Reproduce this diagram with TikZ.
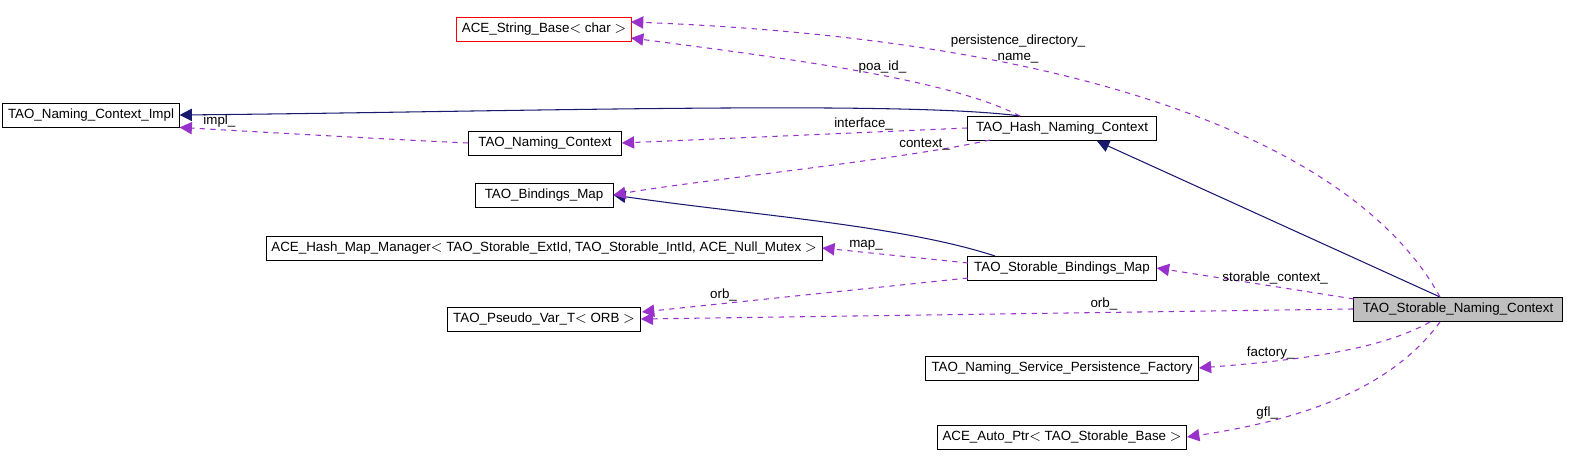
\documentclass[tikz,border=0pt]{standalone}
\usepackage{fontspec}
\setmainfont{Liberation Sans}
\tikzset{
  cls/.style={draw=black, fill=white, font=\fontsize{7.6}{9}\selectfont, minimum height=0.48cm, inner xsep=3pt},
  base/.style={draw=navy, -{Triangle[open, fill=navy, length=7pt, width=7pt]}, semithick},
  use/.style={draw=usecol, dashed, -{Triangle[fill=usecol, length=7pt, width=7pt]}, semithick},
  lbl/.style={font=\fontsize{7.6}{9}\selectfont, inner sep=1pt}
}
\usetikzlibrary{arrows.meta}
\definecolor{navy}{RGB}{25,25,112}
\definecolor{usecol}{RGB}{153,50,204}
\begin{document}
\begin{tikzpicture}[x=0.02cm, y=-0.02cm]
  \useasboundingbox (0,0) rectangle (1595,475);
  % classes
  \node[cls, draw=red, minimum width=3.44cm] (strbase) at (544,29) {ACE\_String\_Base$<$ char $>$};
  \node[cls, minimum width=3.44cm] (impl) at (91,115) {TAO\_Naming\_Context\_Impl};
  \node[cls, minimum width=3.06cm] (nctx) at (545,143) {TAO\_Naming\_Context};
  \node[cls, minimum width=3.78cm] (hash) at (1062,128) {TAO\_Hash\_Naming\_Context};
  \node[cls, minimum width=2.76cm] (bmap) at (544,195) {TAO\_Bindings\_Map};
  \node[cls, minimum width=10.84cm] (hmm) at (544,248) {ACE\_Hash\_Map\_Manager$<$ TAO\_Storable\_ExtId, TAO\_Storable\_IntId, ACE\_Null\_Mutex $>$};
  \node[cls, minimum width=3.78cm] (sbmap) at (1062,268) {TAO\_Storable\_Bindings\_Map};
  \node[cls, minimum width=3.86cm] (pvar) at (544,319) {TAO\_Pseudo\_Var\_T$<$ ORB $>$};
  \node[cls, fill=black!25, minimum width=4.18cm] (snc) at (1458,309) {TAO\_Storable\_Naming\_Context};
  \node[cls, minimum width=5.46cm] (fact) at (1062,368) {TAO\_Naming\_Service\_Persistence\_Factory};
  \node[cls, minimum width=4.92cm] (aptr) at (1062,437) {ACE\_Auto\_Ptr$<$ TAO\_Storable\_Base $>$};
  % inheritance
  \draw[base] (1020,116) .. controls (900,100) and (500,112) .. (impl.east);
  \draw[base] (1440,297) -- (1097,141);
  \draw[base] (995,256) .. controls (900,225) and (750,215) .. (bmap.east);
  % usage
  \draw[use] (1020,116) .. controls (950,80) and (800,60) .. node[lbl, above, pos=0.45] {poa\_id\_} (631,38);
  \draw[use] (1440,297) .. controls (1360,150) and (1100,40) .. node[lbl, pos=0.68, above, align=center] {persistence\_directory\_\\name\_} (631,22);
  \draw[use] (nctx.west) .. controls (400,140) and (260,132) .. node[lbl, above, pos=0.85] {impl\_} (impl.south east);
  \draw[use] (hash.west) -- node[lbl, above, pos=0.3] {interface\_} (nctx.east);
  \draw[use] (990,140) .. controls (900,160) and (700,180) .. node[lbl, above, pos=0.2] {context\_} (bmap.east);
  \draw[use] (968,263) -- node[lbl, above, pos=0.7] {map\_} (hmm.east);
  \draw[use] (968,278) -- node[lbl, above, pos=0.75] {orb\_} (642,312);
  \draw[use] (1354,299) -- node[lbl, above, pos=0.4] {storable\_context\_} (sbmap.east);
  \draw[use] (snc.west) -- node[lbl, above, pos=0.35] {orb\_} (pvar.east);
  \draw[use] (1430,322) .. controls (1380,350) and (1300,360) .. node[lbl, above, pos=0.75] {factory\_} (fact.east);
  \draw[use] (1440,322) .. controls (1390,390) and (1300,420) .. node[lbl, above, pos=0.75] {gfl\_} (aptr.east);
\end{tikzpicture}
\end{document}
